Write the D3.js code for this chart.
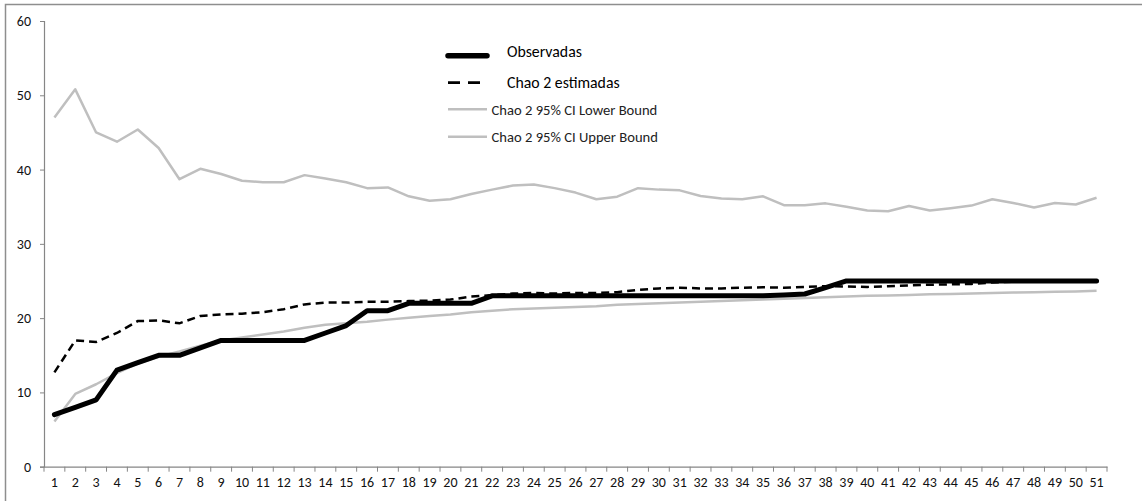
<!DOCTYPE html>
<html>
<head>
<meta charset="utf-8">
<script src="https://cdn.jsdelivr.net/npm/d3@7/dist/d3.min.js"></script>
<style>
  html, body { margin: 0; padding: 0; background: #fff; }
  svg { display: block; font-family: Carlito, Calibri, Lato, "Open Sans", sans-serif; }
</style>
</head>
<body>
<svg id="chart" width="1142" height="501"></svg>
<script>
// ---- data ----
const categories = d3.range(1, 52).map(String);
const yTicks = [0, 10, 20, 30, 40, 50, 60];

const observadas = [7, 8, 9, 13, 14, 15, 15, 16, 17, 17,
  17, 17, 17, 18, 19, 21, 21, 22, 22, 22,
  22, 23, 23, 23, 23, 23, 23, 23, 23, 23,
  23, 23, 23, 23, 23, 23.1, 23.25, 24.1, 25, 25,
  25, 25, 25, 25, 25, 25, 25, 25, 25, 25, 25];

const chao2 = [12.7, 17.0, 16.8, 18.0, 19.6, 19.7, 19.3, 20.3, 20.5, 20.6,
  20.8, 21.2, 21.85, 22.1, 22.1, 22.2, 22.2, 22.3, 22.35, 22.5,
  22.9, 23.1, 23.3, 23.4, 23.3, 23.4, 23.4, 23.5, 23.8, 24.0,
  24.1, 24.0, 24.0, 24.1, 24.15, 24.1, 24.2, 24.3, 24.25, 24.2,
  24.3, 24.4, 24.5, 24.55, 24.6, 24.8, 24.9, 25.0, 25.0, 25.0, 25.0];

const lowerBound = [6.1, 9.8, 11.1, 12.6, 13.9, 14.8, 15.5, 16.3, 17.0, 17.4,
  17.8, 18.2, 18.7, 19.1, 19.3, 19.5, 19.8, 20.05, 20.3, 20.5,
  20.8, 21.0, 21.2, 21.3, 21.4, 21.5, 21.6, 21.8, 21.9, 22.0,
  22.1, 22.2, 22.3, 22.4, 22.5, 22.6, 22.7, 22.8, 22.9, 23.0,
  23.05, 23.1, 23.2, 23.25, 23.3, 23.4, 23.45, 23.5, 23.55, 23.6, 23.7];

const upperBound = [47.0, 50.8, 45.0, 43.75, 45.4, 42.9, 38.7, 40.1, 39.4, 38.5,
  38.3, 38.3, 39.25, 38.8, 38.3, 37.5, 37.6, 36.4, 35.8, 36.0,
  36.7, 37.3, 37.85, 38.0, 37.5, 36.9, 36.0, 36.35, 37.5, 37.3,
  37.2, 36.45, 36.1, 36.0, 36.4, 35.2, 35.2, 35.45, 35.0, 34.5,
  34.4, 35.1, 34.5, 34.8, 35.15, 36.0, 35.5, 34.9, 35.5, 35.3, 36.2];

const legendLabels = ["Observadas", "Chao 2 estimadas", "Chao 2 95% CI Lower Bound", "Chao 2 95% CI Upper Bound"];

// ---- layout ----
const svg = d3.select("#chart");
const plotLeft = 44, plotRight = 1107, plotTop = 21, plotBottom = 466.7;

svg.append("rect")
  .attr("x", 5.5).attr("y", 4.5)
  .attr("width", 1160).attr("height", 520)
  .attr("fill", "none").attr("stroke", "#8e8e8e").attr("stroke-width", 1.5);

const x = d3.scaleBand().domain(categories).range([plotLeft, plotRight]).padding(0);
const y = d3.scaleLinear().domain([0, 60]).range([plotBottom, plotTop]);
const cx = (d, i) => x(categories[i]) + x.bandwidth() / 2;

// axes
const axisColor = "#868686";
const yAxis = svg.append("g")
  .attr("transform", `translate(${plotLeft},0)`)
  .call(d3.axisLeft(y).tickValues(yTicks).tickSize(4).tickPadding(9).tickFormat(d3.format("d")));
const xAxis = svg.append("g")
  .attr("transform", `translate(0,${plotBottom})`)
  .call(d3.axisBottom(x).tickSize(0).tickPadding(10));

// category boundary ticks on x axis
svg.append("g").selectAll("line")
  .data(d3.range(categories.length + 1))
  .join("line")
  .attr("x1", i => plotLeft + i * x.step()).attr("x2", i => plotLeft + i * x.step())
  .attr("y1", plotBottom).attr("y2", plotBottom + 5)
  .attr("stroke", axisColor).attr("stroke-width", 1);

[xAxis, yAxis].forEach(g => {
  g.attr("font-size", null).attr("font-family", null);
  g.select(".domain").attr("stroke", axisColor).attr("stroke-width", 1.2);
  g.selectAll(".tick line").attr("stroke", axisColor);
  g.selectAll("text").attr("fill", "#111")
    .style("font-size", "14px")
    .style("font-family", "Carlito, Calibri, Lato, sans-serif");
});

// lines
const line = d3.line().x(cx).y(d => y(d));

svg.append("path").datum(lowerBound)
  .attr("d", line).attr("fill", "none")
  .attr("stroke", "#bfbfbf").attr("stroke-width", 2.5).attr("stroke-linejoin", "round");
svg.append("path").datum(upperBound)
  .attr("d", line).attr("fill", "none")
  .attr("stroke", "#bfbfbf").attr("stroke-width", 2.5).attr("stroke-linejoin", "round");
svg.append("path").datum(observadas)
  .attr("d", line).attr("fill", "none")
  .attr("stroke", "#000").attr("stroke-width", 5).attr("stroke-linejoin", "round")
  .attr("stroke-linecap", "round");
svg.append("path").datum(chao2)
  .attr("d", line).attr("fill", "none")
  .attr("stroke", "#000").attr("stroke-width", 2.5).attr("stroke-dasharray", "8,5");

// legend
const legend = svg.append("g");
const lx1 = 448, lx2 = 487;
legend.append("line").attr("x1", lx1).attr("x2", lx2).attr("y1", 55.7).attr("y2", 55.7)
  .attr("stroke", "#000").attr("stroke-width", 5.5).attr("stroke-linecap", "round");
legend.append("text").attr("x", 507).attr("y", 56.5).style("font-size", "15.8px").attr("fill", "#000")
  .text(legendLabels[0]);
legend.append("line").attr("x1", lx1).attr("x2", 480).attr("y1", 82.7).attr("y2", 82.7)
  .attr("stroke", "#000").attr("stroke-width", 2.8).attr("stroke-dasharray", "12,8");
legend.append("text").attr("x", 507).attr("y", 88).style("font-size", "15.8px").attr("fill", "#000")
  .text(legendLabels[1]);
legend.append("line").attr("x1", lx1).attr("x2", lx2).attr("y1", 109.3).attr("y2", 109.3)
  .attr("stroke", "#bfbfbf").attr("stroke-width", 2.5);
legend.append("text").attr("x", 491.5).attr("y", 114.5).style("font-size", "14.6px").attr("fill", "#222")
  .text(legendLabels[2]);
legend.append("line").attr("x1", lx1).attr("x2", lx2).attr("y1", 136.7).attr("y2", 136.7)
  .attr("stroke", "#bfbfbf").attr("stroke-width", 2.5);
legend.append("text").attr("x", 491.5).attr("y", 141.5).style("font-size", "14.6px").attr("fill", "#222")
  .text(legendLabels[3]);
</script>
</body>
</html>
